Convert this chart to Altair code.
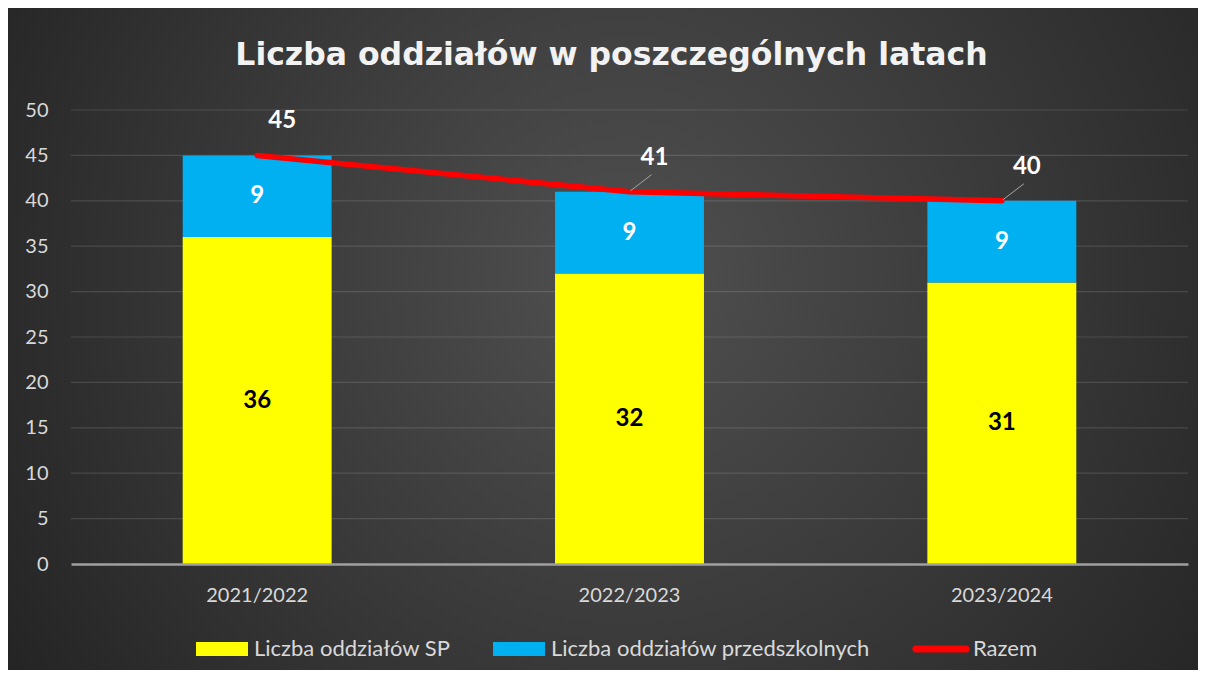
import altair as alt
import pandas as pd

# ---- data ----
years = ["2021/2022", "2022/2023", "2023/2024"]
sp = [36, 32, 31]
przedszkolne = [9, 9, 9]
razem = [45, 41, 40]
series_names = ["Liczba oddziałów SP", "Liczba oddziałów przedszkolnych", "Razem"]
series_colors = ["#ffff00", "#00b0f0", "#ff0000"]
y_ticks = [0, 5, 10, 15, 20, 25, 30, 35, 40, 45, 50]
title_text = "Liczba oddziałów w poszczególnych latach"

# ---- layout ----
W, H = 1117, 454
PAD = {"left": 63, "top": 102, "right": 10, "bottom": 106}
FONT = "Lato"
TXT = "#d9d9d9"

bars_df = pd.DataFrame({
    "year": years * 2,
    "series": [series_names[0]] * len(years) + [series_names[1]] * len(years),
    "value": sp + przedszkolne,
    "order": [0] * len(years) + [1] * len(years),
})
tot_df = pd.DataFrame({"year": years, "total": razem})
grid_df = pd.DataFrame({"v": y_ticks[1:]})
bg_df = pd.DataFrame({"k": [0]})

x_axis = alt.Axis(labelAngle=0, labelFont=FONT, labelFontSize=20, labelColor=TXT,
                  labelPadding=21, ticks=False, tickSize=0, domainColor="#a0a0a0",
                  domainWidth=2.5, grid=False, zindex=1, title=None)
xscale = alt.Scale(paddingInner=0.6, paddingOuter=0.3)


def X():
    return alt.X("year:N", sort=years, title=None, scale=xscale, axis=x_axis)


yscale = alt.Scale(domain=[0, 50], nice=False, zero=True)
y_axis = alt.Axis(values=y_ticks, labelFont=FONT, labelFontSize=20, labelColor=TXT,
                  labelPadding=23, ticks=False, tickSize=0, domain=False, grid=False,
                  zindex=1, title=None)


def Y(field, **kw):
    return alt.Y(field, scale=yscale, axis=y_axis, title=None, **kw)


RECT = "M-1,-0.27L1,-0.27L1,0.27L-1,0.27Z"
LINE = ("M-0.97,-0.135L0.97,-0.135A0.135,0.135 0 0 1 0.97,0.135"
        "L-0.97,0.135A0.135,0.135 0 0 1 -0.97,-0.135Z")

legend = alt.Legend(
    orient="none", legendX=125, legendY=513, direction="horizontal", title=None,
    labelFont=FONT, labelFontSize=22, labelColor=TXT, labelOffset=6, labelLimit=600,
    columnPadding=42, padding=0,
    symbolType={"expr": f"datum.label === 'Razem' ? '{LINE}' : '{RECT}'"},
    symbolSize=2704, symbolStrokeWidth=0, symbolOpacity=1,
)

bg = alt.Chart(bg_df).mark_rect(
    color={"gradient": "radial", "x1": 0.52, "y1": 0.45, "r1": 0,
           "x2": 0.52, "y2": 0.45, "r2": 0.62,
           "stops": [{"offset": 0, "color": "#505050"},
                     {"offset": 1, "color": "#242424"}]}
).encode(
    x=alt.value(-PAD["left"]), x2=alt.value(W + PAD["right"]),
    y=alt.value(-PAD["top"]), y2=alt.value(H + PAD["bottom"]),
)

grid = alt.Chart(grid_df).mark_rule(color="#ffffff", opacity=0.13, strokeWidth=1.2).encode(
    y=Y("v:Q"),
)

bars = alt.Chart(bars_df).mark_bar().encode(
    x=X(),
    y=Y("value:Q", stack="zero"),
    color=alt.Color("series:N", scale=alt.Scale(domain=series_names, range=series_colors),
                    legend=legend),
    order=alt.Order("order:Q"),
)

bar_labels = alt.Chart(bars_df).transform_stack(
    stack="value", groupby=["year"], as_=["v0", "v1"], sort=[alt.SortField("order")]
).transform_calculate(mid="(datum.v0 + datum.v1) / 2").mark_text(
    font=FONT, fontSize=24, fontWeight="bold", baseline="middle"
).encode(
    x=X(),
    y=Y("mid:Q"),
    text="value:Q",
    color=alt.condition(alt.datum.order == 0, alt.value("#000000"), alt.value("#ffffff")),
)

line = alt.Chart(tot_df).mark_line(color="#ff0000", strokeWidth=5.5, strokeCap="round",
                                   strokeJoin="round").encode(
    x=X(),
    y=Y("total:Q"),
)

leaders = alt.Chart(tot_df).transform_filter(
    alt.datum.year != years[0]
).mark_point(shape="M0.1,-0.1L2.2,-1.7", size=400, filled=False, color="#a6a6a6",
             strokeWidth=1, opacity=1).encode(
    x=X(),
    y=Y("total:Q"),
)

tot_labels = alt.Chart(tot_df).mark_text(
    font=FONT, fontSize=24, fontWeight="bold", color="#ffffff", dx=25, dy=-34,
    baseline="middle"
).encode(
    x=X(),
    y=Y("total:Q"),
    text="total:Q",
)

chart = alt.layer(bg, grid, bars, bar_labels, line, leaders, tot_labels).properties(
    width=W, height=H, padding=PAD,
    autosize=alt.AutoSizeParams(type="none"),
    title=alt.Title(title_text, font="DejaVu Sans", fontSize=31.5, fontWeight="bold",
                    color="#f2f2f2", anchor="middle", baseline="alphabetic",
                    offset=-88, dx=-18),
).configure_view(stroke=None).configure(background="#ffffff")

chart.save("out.html", embed_options={"renderer": "svg", "actions": False})
